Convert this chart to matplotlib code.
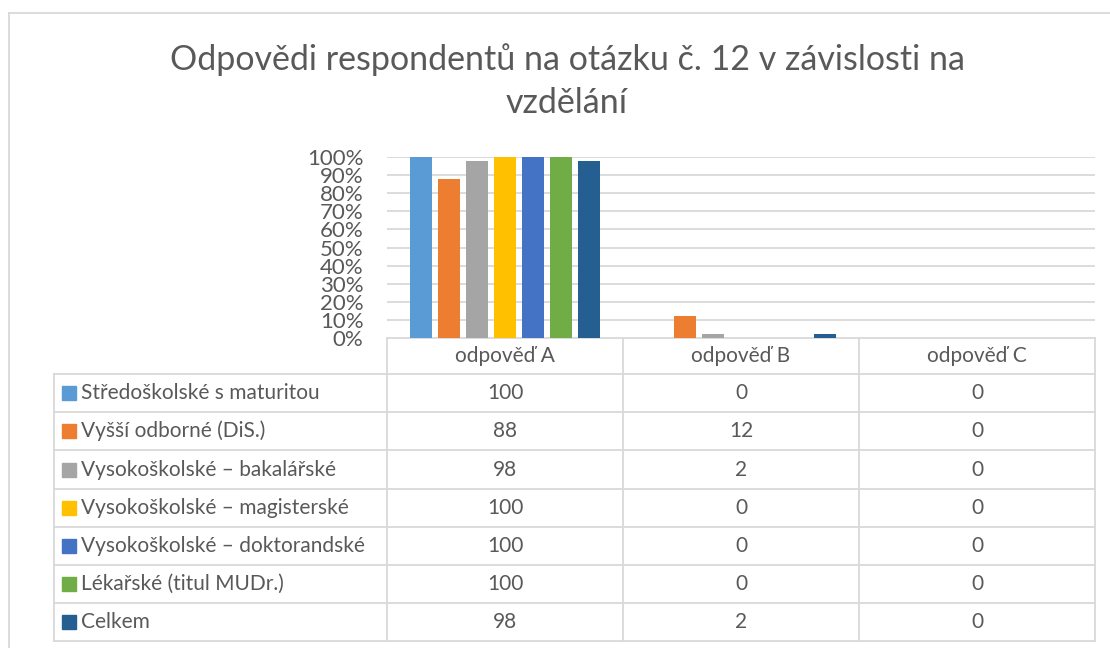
import numpy as np
import matplotlib.pyplot as plt
from matplotlib.patches import Rectangle

plt.rcParams['font.family'] = ['Lato', 'DejaVu Sans']

# Data
categories = ["odpověď A", "odpověď B", "odpověď C"]
series_names = [
    "Středoškolské s maturitou",
    "Vyšší odborné (DiS.)",
    "Vysokoškolské – bakalářské",
    "Vysokoškolské – magisterské",
    "Vysokoškolské – doktorandské",
    "Lékařské (titul MUDr.)",
    "Celkem",
]
values = [
    [100, 0, 0],
    [88, 12, 0],
    [98, 2, 0],
    [100, 0, 0],
    [100, 0, 0],
    [100, 0, 0],
    [98, 2, 0],
]
colors = ["#5b9bd5", "#ed7d31", "#a5a5a5", "#ffc000", "#4472c4", "#70ad47", "#255e91"]
yticks = np.arange(0, 101, 10)

W, H = 1110, 648
text_col = "#595959"
grid_col = "#d9d9d9"
line_col = "#d9d9d9"
fs_table = 15

fig = plt.figure(figsize=(W / 100, H / 100), dpi=100)

# pixel layout
plot_l, plot_r = 387, 1095
plot_t, plot_b = 157, 338
col_edges = [387, 623, 859, 1095]
tab_l = 54
row_edges = [374, 412, 450, 489, 527, 565, 603, 641]

ax = fig.add_axes([plot_l / W, 1 - plot_b / H, (plot_r - plot_l) / W, (plot_b - plot_t) / H])
x = np.arange(len(categories))
n = len(series_names)
step = 0.119
bw = 0.093
for i, (name, vals) in enumerate(zip(series_names, values)):
    ax.bar(x + (i - (n - 1) / 2) * step, vals, width=bw, color=colors[i], zorder=3)
ax.set_xlim(-0.5, len(categories) - 0.5)
ax.set_ylim(0, 100)
ax.set_yticks(yticks)
ax.set_yticklabels([f"{t}%" for t in yticks], fontsize=16, color=text_col)
ax.tick_params(axis='y', length=0, pad=17)
ax.set_xticks([])
for t in yticks:
    ax.axhline(t, color=grid_col, lw=1.3, zorder=1)
for s in ax.spines.values():
    s.set_visible(False)

# overlay axes in pixel coordinates for the table, title and border
ov = fig.add_axes([0, 0, 1, 1], zorder=-1)
ov.set_xlim(0, W)
ov.set_ylim(H, 0)
ov.axis('off')

# outer chart border
ov.plot([9, 9], [13, H], color=line_col, lw=1.3)
ov.plot([9, W], [13, 13], color=line_col, lw=1.3)

# title
ov.text(567, 60, "Odpovědi respondentů na otázku č. 12 v závislosti na",
        ha='center', va='center', fontsize=24.5, color=text_col)
ov.text(567, 103, "vzdělání", ha='center', va='center', fontsize=24.5, color=text_col)

# data table grid
tl = 1.3
ov.plot([plot_l, plot_r], [plot_b, plot_b], color=line_col, lw=tl)
for xe in col_edges:
    ov.plot([xe, xe], [plot_b, row_edges[-1]], color=line_col, lw=tl)
ov.plot([tab_l, tab_l], [row_edges[0], row_edges[-1]], color=line_col, lw=tl)
for ye in row_edges:
    ov.plot([tab_l, plot_r], [ye, ye], color=line_col, lw=tl)

# header
for j, cat in enumerate(categories):
    cx = (col_edges[j] + col_edges[j + 1]) / 2
    ov.text(cx, (plot_b + row_edges[0]) / 2, cat, ha='center', va='center',
            fontsize=fs_table, color=text_col)

# rows
for i, name in enumerate(series_names):
    cy = (row_edges[i] + row_edges[i + 1]) / 2
    ov.add_patch(Rectangle((62, cy - 7), 14, 14, color=colors[i]))
    ov.text(81, cy, name, ha='left', va='center', fontsize=fs_table, color=text_col)
    for j in range(len(categories)):
        cx = (col_edges[j] + col_edges[j + 1]) / 2
        ov.text(cx, cy, str(values[i][j]), ha='center', va='center',
                fontsize=fs_table, color=text_col)

fig.savefig("out.png", dpi=100)
